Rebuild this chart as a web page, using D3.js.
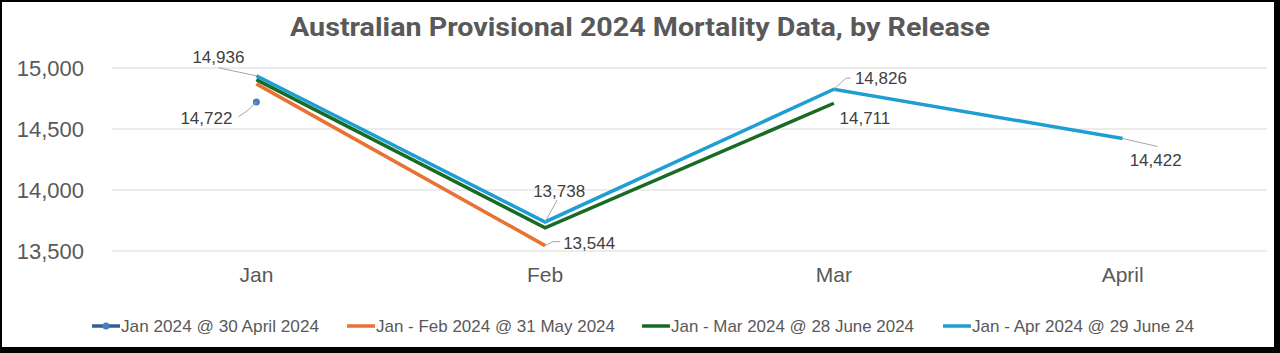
<!DOCTYPE html>
<html><head><meta charset="utf-8">
<script src="https://cdn.jsdelivr.net/npm/d3@7"></script>
<style>
html,body{margin:0;padding:0;background:#fff;}
svg{display:block;}
</style></head>
<body>
<svg id="c" width="1280" height="353"></svg>
<script>
const title = "Australian Provisional 2024 Mortality Data, by Release";
const categories = ["Jan", "Feb", "Mar", "April"];
const yTicks = [13500, 14000, 14500, 15000];
const seriesNames = ["Jan 2024 @ 30 April 2024", "Jan - Feb 2024 @ 31 May 2024", "Jan - Mar 2024 @ 28 June 2024", "Jan - Apr 2024 @ 29 June 24"];
const seriesA = [14722];
const seriesB = [14870, 13544];
const seriesC = [14905, 13690, 14711];
const seriesD = [14936, 13738, 14826, 14422];
const seriesColors = ["#2E6190", "#E97132", "#196B24", "#1F9ED3"];
// labelled points: [series index, category index]
const labelled = [[0,0],[3,0],[1,1],[3,1],[3,2],[2,2],[3,3]];

const allSeries = [seriesA, seriesB, seriesC, seriesD];
const svg = d3.select("#c");
const W = 1280, H = 353;
svg.append("rect").attr("width", W).attr("height", H).attr("fill", "#fff");

const x = d3.scaleBand().domain(categories).range([112, 1267]);
const y = d3.scaleLinear().domain([13500, 15000]).range([251, 68]);
const cx = c => x(c) + x.bandwidth() / 2;

// gridlines
svg.append("g").selectAll("line").data(yTicks).join("line")
  .attr("x1", 112).attr("x2", 1267)
  .attr("y1", d => y(d)).attr("y2", d => y(d))
  .attr("stroke", "#D9D9D9").attr("stroke-width", 1);

// y axis labels
const yAxis = d3.axisLeft(y).tickValues(yTicks).tickFormat(d3.format(",")).tickSize(0).tickPadding(0);
const gy = svg.append("g").attr("transform", "translate(84,0)").call(yAxis);
gy.select(".domain").remove();
gy.selectAll("text").attr("font-family", "Liberation Sans, Arial, sans-serif")
  .attr("font-size", 22).attr("fill", "#595959").attr("dy", "0.35em");

// x axis labels
const xAxis = d3.axisBottom(x).tickSize(0).tickPadding(0);
const gx = svg.append("g").attr("transform", "translate(0,275)").call(xAxis);
gx.select(".domain").remove();
gx.selectAll("text").attr("font-family", "Liberation Sans, Arial, sans-serif")
  .attr("font-size", 21).attr("fill", "#595959").attr("dy", "0.35em");

// title
svg.append("text").attr("x", 640).attr("y", 36).attr("text-anchor", "middle")
  .attr("font-family", "Roboto, Liberation Sans, sans-serif").attr("font-weight", "bold")
  .attr("font-size", 25).attr("fill", "#595959")
  .attr("textLength", 700).attr("lengthAdjust", "spacingAndGlyphs")
  .text(title);

// lines
const line = d3.line().x((d, i) => cx(categories[i])).y(d => y(d));
allSeries.forEach((s, k) => {
  if (s.length > 1) {
    svg.append("path").datum(s).attr("d", line).attr("fill", "none")
      .attr("stroke", seriesColors[k]).attr("stroke-width", 3.5)
      .attr("stroke-linejoin", "miter").attr("stroke-linecap", "butt");
  }
});
// single point marker
svg.append("circle").attr("cx", cx(categories[0])).attr("cy", y(seriesA[0])).attr("r", 3.5)
  .attr("fill", "#4A7EC0");

// data labels with leader lines (label offsets relative to point)
const labelOffsets = {
  "0-0": {dx: -50, dy: 16, anchor: "middle", lead: [[-8, 8], [-18, 15]]},
  "3-0": {dx: -38, dy: -19, anchor: "middle", lead: [[-38, -8]]},
  "1-1": {dx: 44, dy: -3, anchor: "middle", lead: [[8, -4], [15, -4]]},
  "3-1": {dx: 14, dy: -31, anchor: "middle", lead: [[12, -22]]},
  "3-2": {dx: 47, dy: -11, anchor: "middle", lead: [[12, -11], [17, -11]]},
  "2-2": {dx: 31, dy: 15, anchor: "middle", lead: null},
  "3-3": {dx: 33, dy: 22, anchor: "middle", lead: [[35, 8]]}
};
labelled.forEach(([k, c]) => {
  const v = allSeries[k][c];
  const px = cx(categories[c]), py = y(v);
  const o = labelOffsets[k + "-" + c];
  if (o.lead) {
    const pts = [[px, py]].concat(o.lead.map(p => [px + p[0], py + p[1]]));
    svg.append("path").attr("d", d3.line()(pts)).attr("fill", "none")
      .attr("stroke", "#A6A6A6").attr("stroke-width", 1);
  }
  svg.append("text").attr("x", px + o.dx).attr("y", py + o.dy).attr("dy", "0.35em")
    .attr("text-anchor", o.anchor)
    .attr("font-family", "Liberation Sans, Arial, sans-serif").attr("font-size", 17)
    .attr("fill", "#404040").text(d3.format(",")(v));
});

// legend
const legendX = [92, 347, 642, 943];
const legendW = [198, 239, 243, 222];
const lg = svg.append("g");
seriesNames.forEach((n, i) => {
  const g = lg.append("g").attr("transform", `translate(${legendX[i]},326)`);
  g.append("line").attr("x1", 0).attr("x2", 28).attr("y1", 0).attr("y2", 0)
    .attr("stroke", seriesColors[i]).attr("stroke-width", 3.5);
  if (i === 0) g.append("circle").attr("cx", 14).attr("cy", 0).attr("r", 3.5).attr("fill", "#4A7EC0");
  g.append("text").attr("x", 29).attr("y", 0).attr("dy", "0.35em")
    .attr("font-family", "Liberation Sans, Arial, sans-serif").attr("font-size", 17)
    .attr("fill", "#595959").attr("textLength", legendW[i]).attr("lengthAdjust", "spacingAndGlyphs")
    .text(n);
});

// frame
svg.append("rect").attr("x", 0).attr("y", 0).attr("width", 2).attr("height", H).attr("fill", "#000");
svg.append("rect").attr("x", 0).attr("y", 0).attr("width", W).attr("height", 2).attr("fill", "#000");
svg.append("rect").attr("x", 1274).attr("y", 0).attr("width", 6).attr("height", H).attr("fill", "#000");
svg.append("rect").attr("x", 0).attr("y", 347).attr("width", W).attr("height", 6).attr("fill", "#000");
</script>
</body></html>
